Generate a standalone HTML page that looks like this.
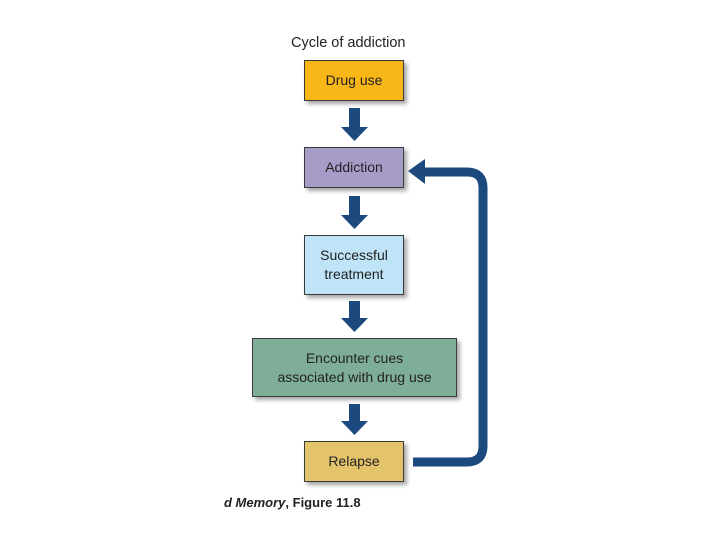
<!DOCTYPE html>
<html><head><style>
body{margin:0;width:720px;height:540px;background:#fff;position:relative;font-family:"Liberation Sans",sans-serif;overflow:hidden}
.b{position:absolute;border:1.5px solid #3a3a3a;box-shadow:3px 3px 4px rgba(0,0,0,.35);display:flex;align-items:center;justify-content:center;text-align:center;font-size:14px;color:#222;line-height:19px;box-sizing:border-box}
</style></head><body>
<div style="position:absolute;left:291px;top:35px;font-size:14.5px;color:#222">Cycle of addiction</div>
<div class="b" style="left:304px;top:60px;width:100px;height:41px;background:#f8b617">Drug use</div>
<div class="b" style="left:304px;top:147px;width:100px;height:41px;background:#a79cc8">Addiction</div>
<div class="b" style="left:304px;top:235px;width:100px;height:60px;background:#bfe3f7">Successful<br>treatment</div>
<div class="b" style="left:252px;top:338px;width:205px;height:59px;background:#7fae98">Encounter cues<br>associated with drug use</div>
<div class="b" style="left:304px;top:441px;width:100px;height:41px;background:#e4c46a">Relapse</div>
<svg width="720" height="540" style="position:absolute;left:0;top:0">
<g fill="#1d4a7e">
<rect x="349" y="108" width="11" height="20"/><polygon points="341,127 368,127 354.5,141"/>
<rect x="349" y="196" width="11" height="20"/><polygon points="341,215 368,215 354.5,229"/>
<rect x="349" y="301" width="11" height="18"/><polygon points="341,318 368,318 354.5,332"/>
<rect x="349" y="404" width="11" height="18"/><polygon points="341,421 368,421 354.5,435"/>
<polygon points="408,171 425,159 425,184"/>
</g>
<path d="M413 462 H467 Q483 462 483 446 V188 Q483 172 467 172 H422" fill="none" stroke="#1d4a7e" stroke-width="9"/>
</svg>
<div style="position:absolute;left:224px;top:495px;font-size:13px;font-weight:bold;color:#222"><i>d Memory</i>, Figure 11.8</div>
</body></html>
